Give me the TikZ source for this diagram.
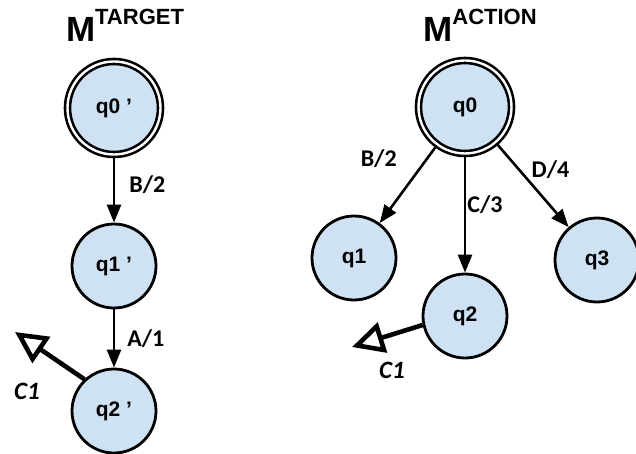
\documentclass[tikz,border=0pt]{standalone}
\usepackage{fontspec}
\setmainfont{Liberation Sans}
\newfontfamily\lblfont{Carlito}
\usetikzlibrary{arrows.meta}
\definecolor{stfill}{HTML}{CFE2F3}

\tikzset{
  qnode/.style={circle, draw=black, line width=2.8pt, fill=stfill, minimum size=84pt,
    inner sep=0pt, font=\bfseries\fontsize{21}{21}\selectfont},
  qhome/.style={qnode, minimum size=93pt, line width=2.6pt, double, double distance=2.4pt},
  move/.style={line width=2.6pt, -{Triangle[length=18pt,width=14pt]}},
  cut/.style={line width=4.6pt, -{Triangle[open,length=32pt,width=31pt]}},
  elabel/.style={font=\lblfont\bfseries\fontsize{24}{24}\selectfont, inner sep=1pt},
  clabel/.style={font=\lblfont\bfseries\itshape\fontsize{25}{25}\selectfont, inner sep=0pt},
  mtitle/.style={anchor=base, inner sep=0pt, font=\bfseries}
}

\begin{document}
\begin{tikzpicture}[x=1pt, y=-1pt]
    \useasboundingbox (0,0) rectangle (636,454);

    % titles
    \node[mtitle] (ttarget) at (125,42) {\fontsize{35}{35}\selectfont M\raisebox{17pt}{\fontsize{22}{22}\selectfont TARGET}};
    \node[mtitle] (taction) at (480,42) {\fontsize{35}{35}\selectfont M\raisebox{17pt}{\fontsize{22}{22}\selectfont ACTION}};

    % target machine
    \node[qhome] (t0) at (114,108) {q0 '};
    \node[qnode] (t1) at (114,266) {q1 '};
    \node[qnode] (t2) at (114,411) {q2 '};

    \draw[move] (t0) -- (t1) node[elabel, pos=0.43, right=13pt] {B/2};
    \draw[move] (t1) -- (t2) node[elabel, pos=0.5, right=11pt] {A/1};

    \coordinate (c1t) at (15,332);
    \draw[cut] (t2.133) -- (c1t);
    \node[clabel] (lc1t) at (27,391) {C1};

    % action machine
    \node[qhome] (a0) at (465,107) {q0};
    \node[qnode] (a1) at (354,258) {q1};
    \node[qnode] (a2) at (465,316) {q2};
    \node[qnode] (a3) at (597,260) {q3};

    \draw[move] (a0) -- (a1) node[elabel, pos=0.17, left=28pt] {B/2};
    \draw[move] (a0) -- (a2) node[elabel, pos=0.42, right=0pt] {C/3};
    \draw[move] (a0) -- (a3) node[elabel, pos=0.32, right=10pt] {D/4};

    \coordinate (c1a) at (352,347);
    \draw[cut] (a2.192) -- (c1a);
    \node[clabel] (lc1a) at (392,370) {C1};
\end{tikzpicture}
\end{document}
